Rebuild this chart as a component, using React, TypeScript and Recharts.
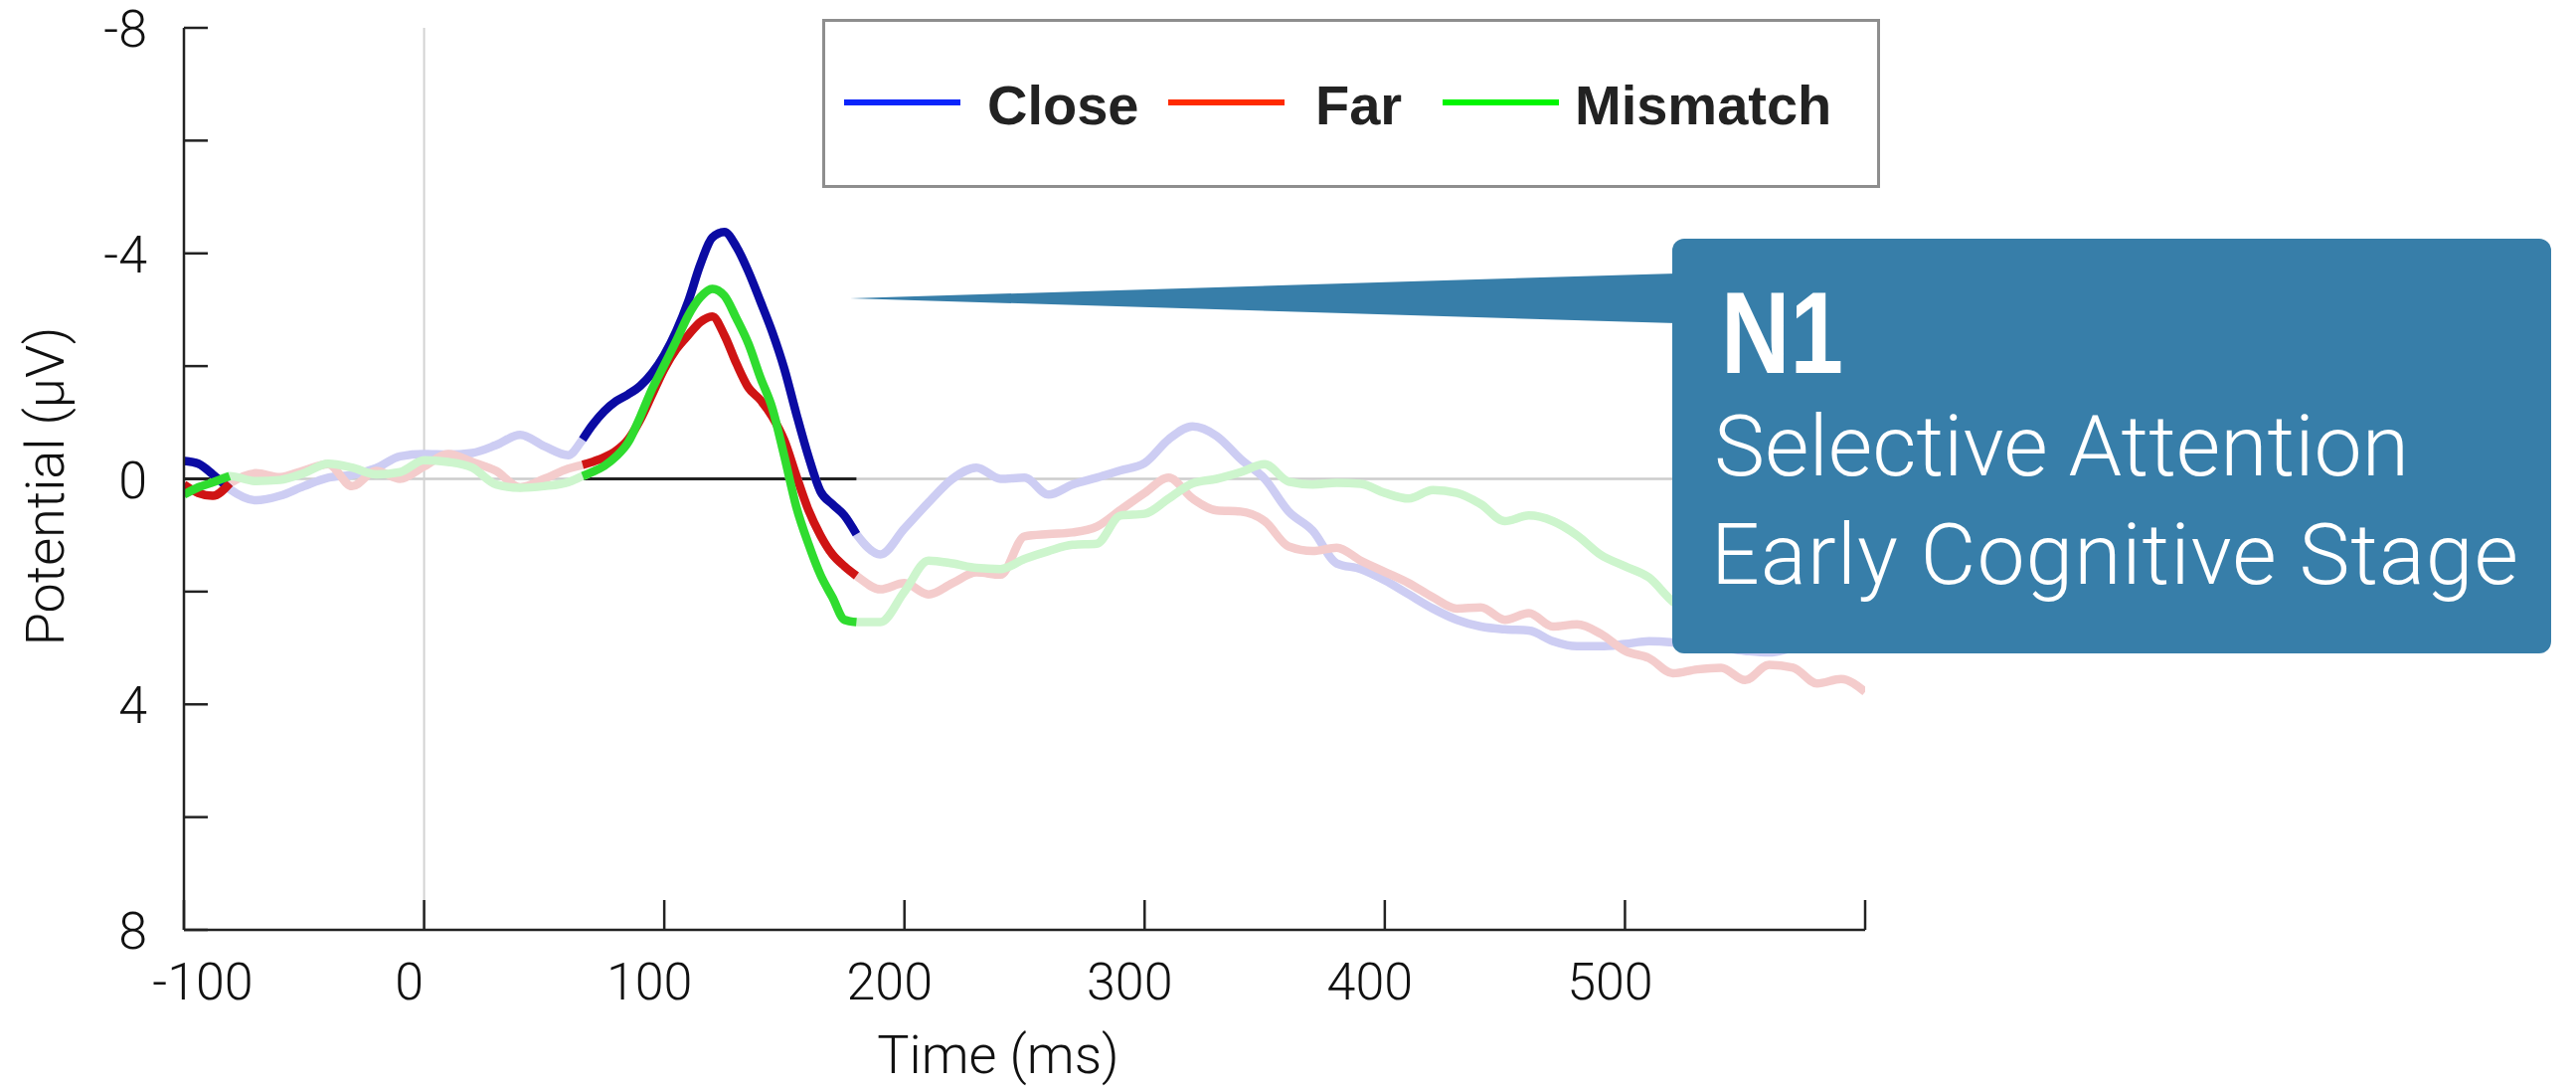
import { LineChart, Line, XAxis, YAxis, ReferenceLine, Legend } from 'recharts'

// ERP waveforms (µV)
const times = [
  -100, -94, -88, -81, -70, -60, -50, -40, -30, -20, -10, 0, 10, 20, 30, 40, 50, 60,
  66, 70, 75, 80, 85, 90, 95, 100, 105, 110, 115, 120, 125, 130, 135, 140, 145, 150, 155, 160, 165, 170, 175, 180,
  190, 200, 210, 220, 230, 240, 250, 260, 270, 280, 290, 300, 310, 320, 330, 340, 350, 360, 370, 380, 390, 400,
  410, 420, 430, 440, 450, 460, 470, 480, 490, 500, 510, 520, 530, 540, 550, 560, 570, 580, 590, 600,
]

const close = [
  -0.32, -0.27, -0.08, 0.18, 0.38, 0.3, 0.13, -0.02, -0.07, -0.19, -0.4, -0.44, -0.43, -0.46, -0.6, -0.78, -0.58, -0.42,
  -0.7, -0.95, -1.2, -1.38, -1.5, -1.65, -1.88, -2.2, -2.62, -3.15, -3.8, -4.28, -4.38, -4.12, -3.68, -3.15, -2.6, -1.95, -1.15, -0.4, 0.22, 0.45, 0.65, 0.98,
  1.34, 0.88, 0.42, 0.0, -0.2, 0.0, -0.02, 0.28, 0.1, -0.02, -0.15, -0.28, -0.7, -0.93, -0.76, -0.35, 0.0, 0.58, 0.92, 1.5, 1.6, 1.8,
  2.05, 2.3, 2.5, 2.62, 2.67, 2.69, 2.88, 2.97, 2.97, 2.93, 2.88, 2.9, 2.95, 3.0, 3.05, 3.08, 3.0, 2.95, 2.98, 3.0,
]

const far = [
  0.1, 0.25, 0.3, 0.08, -0.1, -0.03, -0.15, -0.26, 0.13, -0.14, 0.0, -0.22, -0.44, -0.3, -0.14, 0.15, 0.0, -0.18,
  -0.25, -0.3, -0.38, -0.5, -0.7, -1.05, -1.5, -1.95, -2.3, -2.55, -2.78, -2.88, -2.55, -2.05, -1.62, -1.4, -1.1, -0.68, -0.05, 0.55, 1.0, 1.34, 1.55, 1.72,
  1.96, 1.85, 2.05, 1.85, 1.66, 1.7, 1.02, 0.98, 0.95, 0.85, 0.55, 0.25, -0.02, 0.35, 0.56, 0.58, 0.75, 1.2, 1.28, 1.22, 1.45, 1.65,
  1.85, 2.1, 2.3, 2.28, 2.5, 2.38, 2.62, 2.58, 2.75, 3.05, 3.18, 3.45, 3.38, 3.35, 3.57, 3.3, 3.35, 3.63, 3.55, 3.78,
]

const mismatch = [
  0.28, 0.15, 0.06, -0.05, 0.04, 0.02, -0.1, -0.27, -0.2, -0.08, -0.12, -0.33, -0.3, -0.2, 0.1, 0.16, 0.13, 0.06,
  -0.05, -0.12, -0.23, -0.4, -0.65, -1.1, -1.6, -2.02, -2.45, -2.9, -3.22, -3.37, -3.25, -2.85, -2.4, -1.8, -1.25, -0.4, 0.5, 1.15, 1.7, 2.1, 2.5, 2.54,
  2.54, 2.0, 1.45, 1.5, 1.58, 1.6, 1.42, 1.28, 1.17, 1.15, 0.65, 0.62, 0.35, 0.08, 0.0, -0.12, -0.26, 0.05, 0.1, 0.07, 0.09, 0.25,
  0.35, 0.2, 0.25, 0.45, 0.75, 0.65, 0.75, 1.0, 1.35, 1.55, 1.75, 2.18, 2.4, 2.55, 2.7, 2.8, 2.85, 2.9, 2.95, 3.0,
]

// highlighted (opaque) time windows, everything else is faded
const windows = [
  [-100, -81],
  [66, 180],
]

const xTicks = [-100, 0, 100, 200, 300, 400, 500, 600]
const xTickLabels = ['-100', '0', '100', '200', '300', '400', '500', '']
const yTicks = [-8, -6, -4, -2, 0, 2, 4, 6, 8]
const yTickLabels = ['-8', '', '-4', '', '0', '', '4', '', '8']

const seriesKeys = ['close', 'far', 'mismatch']
const seriesNames = ['Close', 'Far', 'Mismatch']
const legendColors = ['#0a24fb', '#ff2a00', '#00f500']
const strongColors = ['#0b0ba3', '#cf1414', '#2fdc2f']
const fadedColors = ['#cdcdf3', '#f4cccc', '#cdf5cd']

const inWindow = (t: number) => windows.some(([a, b]) => t >= a && t <= b)

const data = times.map((t, i) => ({
  t,
  close: close[i],
  far: far[i],
  mismatch: mismatch[i],
  closeHi: inWindow(t) ? close[i] : null,
  farHi: inWindow(t) ? far[i] : null,
  mismatchHi: inWindow(t) ? mismatch[i] : null,
}))

const lightFont = 'Roboto, "Liberation Sans", sans-serif'
const tickFont = { fontFamily: lightFont, fontWeight: 300, fontSize: 52, fill: '#111' }

function YTick(props: any) {
  const { x, y, payload } = props
  const label = yTickLabels[yTicks.indexOf(payload.value)]
  return (
    <g>
      <line x1={x} x2={x + 24} y1={y} y2={y} stroke="#222" strokeWidth={2.5} />
      {label && (
        <text x={x - 37} y={y + 19} textAnchor="end" {...tickFont}>
          {label}
        </text>
      )}
    </g>
  )
}

function XTick(props: any) {
  const { x, y, payload } = props
  const label = xTickLabels[xTicks.indexOf(payload.value)]
  const dx = payload.value === -100 ? 19 : -15
  return (
    <g>
      <line x1={x} x2={x} y1={y} y2={y - 30} stroke="#222" strokeWidth={2.5} />
      {label && (
        <text x={x + dx} y={y + 70} textAnchor="middle" {...tickFont}>
          {label}
        </text>
      )}
    </g>
  )
}

const legendLineX = [22, 348, 624]
const legendTextX = [166, 496, 757]

function LegendBox() {
  return (
    <svg width={1064} height={170} style={{ display: 'block' }}>
      <rect x={1.5} y={1.5} width={1061} height={167} fill="#fff" stroke="#8e8e8e" strokeWidth={3} />
      {seriesNames.map((name, i) => (
        <g key={name}>
          <line x1={legendLineX[i]} x2={legendLineX[i] + 117} y1={84} y2={84} stroke={legendColors[i]} strokeWidth={6} />
          <text
            x={legendTextX[i]}
            y={106}
            fontFamily='"Liberation Sans", Arial, sans-serif'
            fontWeight={700}
            fontSize={56}
            fill="#222"
          >
            {name}
          </text>
        </g>
      ))}
    </svg>
  )
}

export default function App() {
  return (
    <div style={{ position: 'absolute', left: 0, top: 0, width: 2591, height: 1094, background: '#fff' }}>
      <LineChart width={2591} height={1094} data={data} margin={{ top: 28, right: 715, bottom: 99, left: 85 }}>
        <XAxis
          dataKey="t"
          type="number"
          domain={[-100, 600]}
          ticks={xTicks}
          tick={(p: any) => <XTick {...p} />}
          tickLine={false}
          tickSize={0}
          tickMargin={0}
          height={60}
          axisLine={{ stroke: '#222', strokeWidth: 2.5 }}
          allowDataOverflow
        />
        <YAxis
          type="number"
          domain={[-8, 8]}
          reversed
          ticks={yTicks}
          tick={(p: any) => <YTick {...p} />}
          tickLine={false}
          tickSize={0}
          tickMargin={0}
          width={100}
          axisLine={{ stroke: '#222', strokeWidth: 2.5 }}
          allowDataOverflow
        />
        <ReferenceLine y={0} stroke="#cccccc" strokeWidth={2.5} />
        <ReferenceLine x={0} stroke="#d2d2d2" strokeWidth={2} />
        {windows.map(([a, b]) => (
          <ReferenceLine
            key={a}
            segment={[
              { x: a, y: 0 },
              { x: b, y: 0 },
            ]}
            stroke="#222"
            strokeWidth={3}
          />
        ))}
        {seriesKeys.map((k, i) => (
          <Line
            key={k}
            dataKey={k}
            type="monotone"
            stroke={fadedColors[i]}
            strokeWidth={8.5}
            dot={false}
            activeDot={false}
            legendType="none"
            isAnimationActive={false}
          />
        ))}
        {seriesKeys.map((k, i) => (
          <Line
            key={k + 'Hi'}
            dataKey={k + 'Hi'}
            name={seriesNames[i]}
            type="monotone"
            stroke={strongColors[i]}
            strokeWidth={8.5}
            dot={false}
            activeDot={false}
            connectNulls={false}
            isAnimationActive={false}
          />
        ))}
        <Legend
          layout="horizontal"
          verticalAlign="middle"
          align="center"
          content={() => <LegendBox />}
          wrapperStyle={{ left: 827, top: 19, width: 1064, height: 170 }}
        />
      </LineChart>

      <svg width={2591} height={1094} style={{ position: 'absolute', left: 0, top: 0, pointerEvents: 'none' }}>
        <text transform="translate(64,489) rotate(-90)" textAnchor="middle" fontFamily={lightFont} fontWeight={300} fontSize={54} fill="#111">
          Potential (µV)
        </text>
        <text x={1004} y={1079} textAnchor="middle" fontFamily={lightFont} fontWeight={300} fontSize={54} fill="#111">
          Time (ms)
        </text>

        {/* N1 callout */}
        <polygon points="855,300 1686,275 1686,325" fill="#377ea9" />
        <rect x={1682} y={240} width={884} height={417} rx={12} fill="#377ea9" />
        <text
          x={1731}
          y={375}
          fontFamily='"Liberation Sans", Arial, sans-serif'
          fontWeight={700}
          fontSize={116}
          textLength={123}
          lengthAdjust="spacingAndGlyphs"
          fill="#fff"
        >
          N1
        </text>
        <text x={1724} y={478} fontFamily={lightFont} fontWeight={300} fontSize={86} textLength={699} lengthAdjust="spacing" fill="#fff">
          Selective Attention
        </text>
        <text x={1721} y={587} fontFamily={lightFont} fontWeight={300} fontSize={86} textLength={812} lengthAdjust="spacing" fill="#fff">
          Early Cognitive Stage
        </text>
      </svg>
    </div>
  )
}
